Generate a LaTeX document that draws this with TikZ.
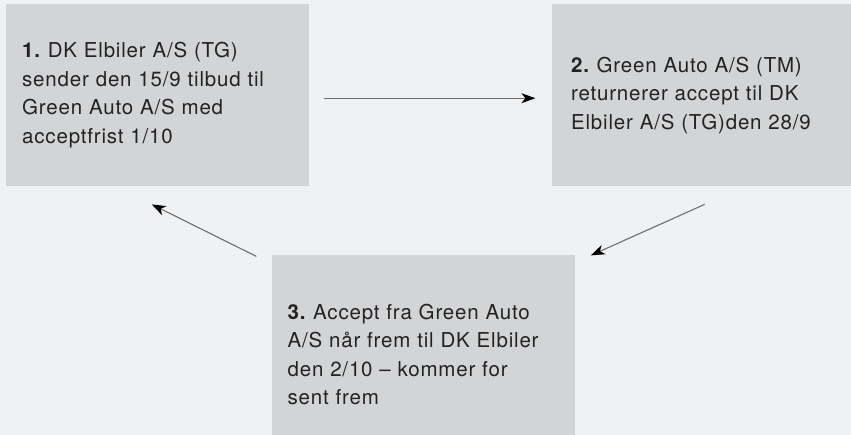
\documentclass[tikz,border=0pt]{standalone}
\usepackage{fontspec}
\setmainfont{TeX Gyre Heros}[LetterSpace=4]
\usetikzlibrary{arrows.meta, positioning}
\definecolor{bgcol}{HTML}{F0F1F3}
\definecolor{boxcol}{HTML}{D3D4D6}
\definecolor{txtcol}{HTML}{222222}
\definecolor{arrcol}{HTML}{6E6E6E}
\tikzset{
  stepbox/.style={rectangle, fill=boxcol, minimum width=303pt,
                  minimum height=182pt, text width=271pt,
                  inner xsep=16pt, align=left, text=txtcol,
                  font=\fontsize{20.5}{28.5}\selectfont\frenchspacing},
  arr/.style={-{Stealth[length=14pt, width=10pt, inset=4pt, black]},
              draw=arrcol, line width=1.1pt},
}
\begin{document}
\begin{tikzpicture}[x=1pt, y=1pt]
  \useasboundingbox (0,0) rectangle (851,-435);
  \fill[bgcol] (0,0) rectangle (851,-435);
  % steps
  \node[stepbox, anchor=north west] (tilbud) at (6,-4)
    {\textbf{1.} DK Elbiler A/S (TG)\\ sender den 15/9 tilbud til\\
     Green Auto A/S med\\ acceptfrist 1/10};
  \node[stepbox, minimum width=310pt, right=242pt of tilbud] (accept)
    {\textbf{2.} Green Auto A/S (TM)\\ returnerer accept til DK\\
     Elbiler A/S (TG)den 28/9};
  \node[stepbox, minimum height=200pt, below=68pt of tilbud.south east,
        anchor=north west, xshift=-38pt] (frem)
    {\textbf{3.} Accept fra Green Auto\\ A/S når frem til DK Elbiler\\
     den 2/10 -- kommer for\\ sent frem\\[10pt]};
  % arrows
  \draw[arr] ([xshift=15pt, yshift=-3pt]tilbud.east)
    -- ([xshift=-16pt, yshift=-3pt]accept.west);
  \draw[arr] ([xshift=-2pt, yshift=-18pt]accept.south)
    -- ([xshift=16pt, yshift=-1pt]frem.north east);
  \draw[arr] ([xshift=-15pt, yshift=-2pt]frem.north west)
    -- ([xshift=-6pt, yshift=-18pt]tilbud.south);
\end{tikzpicture}
\end{document}
